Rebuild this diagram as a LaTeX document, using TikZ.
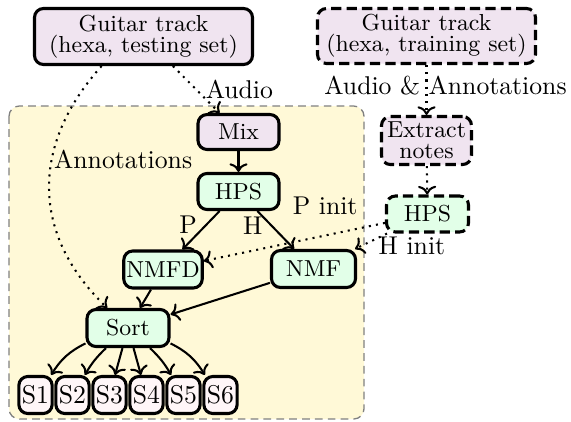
\documentclass[tikz,border=0pt]{standalone}
\usetikzlibrary{arrows.meta}
\definecolor{cpurple}{RGB}{240,228,240}
\definecolor{cgreen}{RGB}{226,255,232}
\definecolor{cyellow}{RGB}{255,249,215}
\definecolor{cpink}{RGB}{255,246,248}
\begin{document}
\begin{tikzpicture}[x=0.389pt,y=-0.389pt,
  box/.style={draw, very thick, rounded corners=3.5pt, font=\small, align=center, inner sep=1pt},
  pbox/.style={box, fill=cpurple},
  gbox/.style={box, fill=cgreen},
  sbox/.style={box, fill=cpink, font=\normalsize, inner xsep=1.2pt, minimum height=14.4pt},
  train/.style={dash pattern=on 4pt off 2pt},
  flow/.style={->, thick},
  dflow/.style={->, thick, dotted},
  lbl/.style={font=\normalsize},
]
\useasboundingbox (0,0) rectangle (571,421);
\draw[gray, line width=0.5pt, dash pattern=on 3pt off 2pt, fill=cyellow, rounded corners=4pt] (9,106) rectangle (364,419);

\node[pbox, minimum width=84.8pt, minimum height=21.8pt] (tgt) at (143.5,36.5) {Guitar track\\[-2.8pt](hexa, testing set)};
\node[pbox, train, minimum width=84.8pt, minimum height=21.4pt] (trg) at (426.5,36) {Guitar track\\[-2.8pt](hexa, training set)};
\node[pbox, minimum width=31.5pt, minimum height=13.6pt] (mix) at (238.5,132) {Mix};
\node[gbox, minimum width=31.5pt, minimum height=14pt] (hps) at (238.5,191.5) {HPS};
\node[pbox, train, minimum width=35pt, minimum height=18.7pt] (ext) at (426.5,140.5) {Extract\\[-2.8pt]notes};
\node[gbox, train, minimum width=31.9pt, minimum height=14pt] (thps) at (427.5,214) {HPS};
\node[gbox, minimum width=30pt, minimum height=14.4pt] (nmfd) at (163,269.5) {NMFD};
\node[gbox, minimum width=32.7pt, minimum height=14.4pt] (nmf) at (313.5,269) {NMF};
\node[gbox, minimum width=31.9pt, minimum height=14.4pt] (sort) at (128,328) {Sort};
\node[sbox] (s1) at (35.5,395) {S1};
\node[sbox] (s2) at (72.5,395) {S2};
\node[sbox] (s3) at (109.5,395) {S3};
\node[sbox] (s4) at (146.5,395) {S4};
\node[sbox] (s5) at (183.5,395) {S5};
\node[sbox] (s6) at (220.5,395) {S6};

\draw[dflow] (tgt) -- node[lbl, right] {Audio} (mix);
\draw[dflow] ([xshift=-16.3pt]tgt.south) to[out=228,in=136,looseness=1.12] node[lbl, pos=0.38, right, inner sep=0.5pt] {Annotations} (sort);
\draw[flow] (mix) -- (hps);
\draw[flow] (hps) -- node[lbl, pos=0.35, left] {P} (nmfd);
\draw[flow] (hps) -- node[lbl, pos=0.4, left] {H} (nmf);
\draw[dflow] (trg) -- node[lbl, xshift=7.4pt, yshift=1.7pt] {Audio \& Annotations} (ext);
\draw[dflow] (ext) -- (thps);
\draw[dflow] (thps) -- node[lbl, pos=0.33, above=4.3pt] {P init} (nmfd);
\draw[dflow] (thps) -- node[lbl, pos=0, anchor=north, inner sep=1pt, xshift=9.7pt] {H init} (nmf);
\draw[flow] (nmfd) -- (sort);
\draw[flow] (nmf) -- (sort);
\draw[flow] (sort) to[bend right=16] (s1);
\draw[flow] (sort) to[bend right=8] (s2);
\draw[flow] (sort) -- (s3);
\draw[flow] (sort) -- (s4);
\draw[flow] (sort) to[bend left=8] (s5);
\draw[flow] (sort) to[bend left=16] (s6);
\end{tikzpicture}
\end{document}
